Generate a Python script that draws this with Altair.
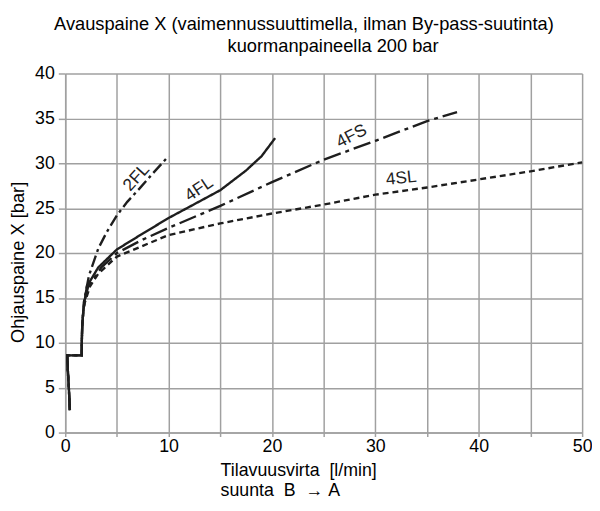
import altair as alt
import pandas as pd

# shared start of all curves (opening step)
base_x = [0.45, 0.35, 0.25, 0.2, 1.0, 1.6, 1.6, 1.65, 1.75]
base_y = [2.5, 5.0, 7.0, 8.6, 8.6, 8.6, 10.0, 12.0, 13.5]

fl2_x = [1.8, 2.3, 3.2, 4.0, 5.0, 6.0, 7.2, 8.5, 10.0]
fl2_y = [14.5, 17.5, 20.5, 22.3, 24.2, 25.7, 27.2, 28.9, 30.8]

fl4_x = [1.85, 2.1, 3.2, 5.0, 7.4, 10.0, 12.1, 15.0, 17.5, 19.0, 20.3]
fl4_y = [14.5, 16.3, 18.4, 20.4, 22.1, 23.9, 25.2, 27.0, 29.2, 30.8, 32.8]

fs4_x = [1.85, 2.2, 3.5, 5.0, 7.5, 10.0, 15.0, 20.0, 25.0, 30.0, 35.0, 37.9]
fs4_y = [14.5, 16.2, 18.4, 20.0, 21.5, 22.8, 25.25, 27.9, 30.4, 32.5, 34.7, 35.7]

sl4_x = [1.9, 2.4, 3.2, 5.0, 10.0, 15.0, 20.0, 25.0, 30.0, 35.0, 40.0, 45.0, 50.0]
sl4_y = [14.5, 16.3, 17.7, 19.6, 22.0, 23.3, 24.4, 25.4, 26.5, 27.3, 28.2, 29.1, 30.1]

series_names = ["2FL", "4FL", "4FS", "4SL"]
series_x = [fl2_x, fl4_x, fs4_x, sl4_x]
series_y = [fl2_y, fl4_y, fs4_y, sl4_y]

label_text = ["2FL", "4FL", "4FS", "4SL"]
label_x = [6.9, 12.95, 27.7, 32.5]
label_y = [28.4, 27.1, 33.0, 28.3]
label_angle = [312, 326, 333, 354]

x_ticks = list(range(0, 51, 5))
y_ticks = list(range(0, 41, 5))

rows = []
for name, xs, ys in zip(series_names, series_x, series_y):
    allx = base_x + xs
    ally = base_y + ys
    for i, (xv, yv) in enumerate(zip(allx, ally)):
        rows.append({"series": name, "i": i, "x": xv, "y": yv})
df = pd.DataFrame(rows)

ldf = pd.DataFrame({"t": label_text, "x": label_x, "y": label_y, "a": label_angle})

FONT = "Liberation Sans"
GRID = "#a0a0a0"

xscale = alt.Scale(domain=[0, 50], nice=False, zero=False)
yscale = alt.Scale(domain=[0, 40], nice=False, zero=False)

lines = alt.Chart(df).mark_line(color="#1e1e1e", strokeWidth=2.4, interpolate="linear").encode(
    x=alt.X("x:Q", scale=xscale, axis=alt.Axis(
        values=x_ticks, labelExpr="datum.value % 10 === 0 ? datum.label : ''",
        title=["Tilavuusvirta\u00a0\u00a0[l/min]", "suunta\u00a0\u00a0B\u00a0\u00a0\u2192\u00a0A"],
        titleAlign="left", titleX=157, titleY=44, titleBaseline="alphabetic",
        titleLineHeight=20, titleFontSize=18, titleFontWeight="normal", titleFont=FONT,
        titleColor="#000",
        labelFont=FONT, labelFontSize=18, labelColor="#000", labelPadding=1,
        tickSize=4, tickColor=GRID, tickWidth=1.5,
        grid=True, gridColor=GRID, gridWidth=1.5, gridOpacity=1,
        domainColor=GRID, domainWidth=1.5, labelFlush=False)),
    y=alt.Y("y:Q", scale=yscale, axis=alt.Axis(
        values=y_ticks, title="Ohjauspaine X [bar]",
        titleAngle=270, titleX=-48, titleY=191, titleAlign="center", titleBaseline="middle",
        titleFontSize=18.5, titleFontWeight="normal", titleFont=FONT, titleColor="#000",
        labelFont=FONT, labelFontSize=18, labelColor="#000", labelPadding=4,
        tickSize=7, tickColor=GRID, tickWidth=1.5,
        grid=True, gridColor=GRID, gridWidth=1.5, gridOpacity=1,
        domainColor=GRID, domainWidth=1.5)),
    detail="series:N",
    order=alt.Order("i:Q"),
    strokeDash=alt.StrokeDash("series:N", scale=alt.Scale(
        domain=series_names,
        range=[[12, 4, 3, 4], [1, 0], [18, 5, 4, 5], [6, 4]]), legend=None),
)

labels = alt.Chart(ldf).mark_text(font=FONT, fontSize=17.5, color="#222",
                                  align="center", baseline="middle").encode(
    x=alt.X("x:Q", scale=xscale, axis=alt.Axis(
        orient="top", title="kuormanpaineella 200 bar", labels=False, ticks=False,
        domain=False, grid=False, titleAlign="center", titleX=271, titleY=-22,
        titleBaseline="alphabetic", titleFontSize=18.5, titleFont=FONT,
        titleFontWeight="normal", titleColor="#000")),
    y=alt.Y("y:Q", scale=yscale, axis=None),
    angle=alt.Angle("a:Q", scale=None),
    text="t:N",
)

chart = alt.layer(lines, labels).resolve_axis(x="independent", y="independent").properties(
    width=524, height=364,
    autosize=alt.AutoSizeParams(type="none"),
    padding={"left": 58, "top": 63, "right": 10, "bottom": 68},
    title=alt.TitleParams(
        text="Avauspaine X (vaimennussuuttimella, ilman By-pass-suutinta)",
        anchor="middle", frame="group", dx=-20, fontSize=18.5, font=FONT,
        fontWeight="normal", color="#000", offset=4,
    ),
).configure_view(stroke=None)

chart.save("out.html", embed_options={"renderer": "svg", "actions": False})
